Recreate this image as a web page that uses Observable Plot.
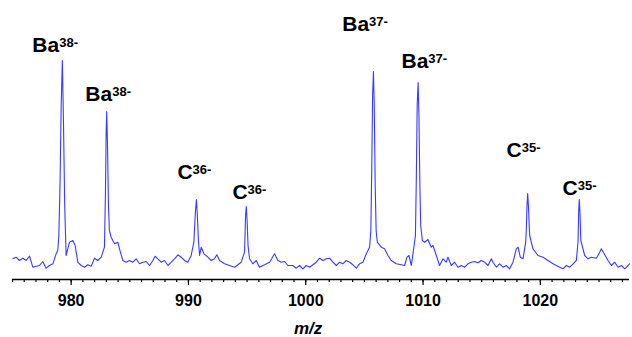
<!DOCTYPE html>
<html><head><meta charset="utf-8">
<script src="https://cdn.jsdelivr.net/npm/d3@7"></script>
<script src="https://cdn.jsdelivr.net/npm/@observablehq/plot@0.6"></script>
<style>
html,body{margin:0;padding:0;background:#fff;}
</style>
</head><body><div id="chart"></div>
<script>
// Spectrum (m/z, relative intensity)
const mz = [
975.03, 975.31, 975.59, 975.88, 976.16, 976.45, 976.73, 977.01, 977.30, 977.58,
977.87, 978.15, 978.44, 978.72, 978.86, 978.95, 979.05, 979.15, 979.25, 979.35,
979.45, 979.57, 979.86, 980.14, 980.34, 980.57, 980.85, 981.14, 981.42, 981.71,
981.99, 982.27, 982.56, 982.84, 982.92, 982.98, 983.03, 983.10, 983.18, 983.26,
983.41, 983.70, 983.98, 984.12, 984.41, 984.69, 984.98, 985.26, 985.54, 985.83,
986.11, 986.40, 986.68, 986.97, 987.16, 987.39, 987.68, 987.96, 988.25, 988.53,
988.81, 989.10, 989.38, 989.67, 989.95, 990.23, 990.46, 990.60, 990.68, 990.76,
990.85, 990.95, 991.09, 991.32, 991.66, 991.94, 992.22, 992.42, 992.65, 993.08,
993.50, 993.93, 994.21, 994.50, 994.78, 994.87, 994.93, 995.00, 995.08, 995.21,
995.49, 995.78, 996.06, 996.49, 996.92, 997.34, 997.63, 997.91, 998.19, 998.48,
998.90, 999.19, 999.47, 999.76, 1000.04, 1000.33, 1000.61, 1000.90, 1001.18, 1001.46,
1001.75, 1002.03, 1002.32, 1002.60, 1002.89, 1003.17, 1003.45, 1003.74, 1004.02, 1004.31,
1004.59, 1004.88, 1005.16, 1005.30, 1005.44, 1005.55, 1005.63, 1005.70, 1005.77, 1005.84,
1005.92, 1006.00, 1006.10, 1006.44, 1006.72, 1007.01, 1007.29, 1007.72, 1008.14, 1008.43,
1008.63, 1008.80, 1009.00, 1009.14, 1009.35, 1009.43, 1009.50, 1009.58, 1009.65, 1009.73,
1009.80, 1009.94, 1010.13, 1010.42, 1010.70, 1010.85, 1011.13, 1011.41, 1011.70, 1011.98,
1012.12, 1012.41, 1012.69, 1012.98, 1013.26, 1013.55, 1013.83, 1014.12, 1014.40, 1014.68,
1014.97, 1015.25, 1015.54, 1015.82, 1015.96, 1016.25, 1016.53, 1016.82, 1017.10, 1017.38,
1017.67, 1017.95, 1018.10, 1018.29, 1018.52, 1018.75, 1018.80, 1018.86, 1018.92, 1018.98,
1019.09, 1019.37, 1019.80, 1020.23, 1020.65, 1021.08, 1021.36, 1021.65, 1021.93, 1022.22,
1022.50, 1022.79, 1023.07, 1023.21, 1023.27, 1023.32, 1023.38, 1023.45, 1023.78, 1024.06,
1024.35, 1024.78, 1025.06, 1025.20, 1025.49, 1025.77, 1026.06, 1026.34, 1026.63, 1026.91,
1027.20, 1027.48, 1027.60
];
const intensity = [
16.7, 18.3, 15.0, 17.3, 15.0, 19.3, 8.3, 9.3, 10.0, 14.0,
7.3, 10.0, 11.7, 21.7, 25.0, 40.0, 90.0, 170.0, 215.0, 150.0,
70.0, 20.0, 33.3, 35.0, 30.0, 13.3, 10.0, 8.3, 10.7, 9.3,
17.3, 15.0, 18.3, 28.3, 80.0, 140.0, 164.0, 130.0, 70.0, 45.0,
38.3, 31.7, 33.3, 26.7, 15.0, 13.3, 15.0, 13.3, 16.7, 11.7,
13.3, 14.0, 10.0, 15.0, 19.3, 16.7, 13.3, 15.0, 10.0, 13.3,
16.7, 20.7, 18.3, 15.0, 13.3, 20.0, 33.3, 65.0, 76.0, 60.0,
35.0, 20.0, 28.3, 21.7, 18.3, 15.0, 16.7, 20.7, 15.0, 11.7,
10.0, 8.3, 10.7, 13.3, 23.3, 60.0, 69.0, 55.0, 30.0, 16.7,
11.7, 15.0, 8.3, 10.7, 13.3, 21.7, 15.0, 13.3, 14.0, 10.0,
10.0, 7.3, 10.0, 6.7, 10.0, 8.3, 10.7, 13.3, 17.3, 15.0,
16.7, 17.3, 13.3, 10.0, 13.3, 11.7, 15.0, 13.3, 10.7, 7.3,
11.7, 13.3, 21.7, 25.0, 28.3, 45.0, 110.0, 180.0, 204.0, 170.0,
90.0, 45.0, 33.3, 28.3, 26.7, 20.0, 15.0, 11.7, 10.7, 10.0,
18.3, 20.0, 10.0, 21.7, 40.0, 100.0, 170.0, 193.0, 160.0, 90.0,
50.0, 35.0, 33.3, 36.0, 28.3, 30.0, 20.0, 10.0, 16.7, 13.3,
18.3, 10.0, 13.3, 8.3, 10.0, 8.3, 11.7, 13.3, 14.0, 12.7,
15.0, 13.3, 10.0, 16.7, 13.3, 8.3, 11.7, 8.3, 10.0, 6.7,
13.3, 26.7, 28.3, 18.3, 16.7, 33.3, 45.0, 70.0, 82.0, 70.0,
40.0, 26.7, 20.0, 18.3, 15.0, 11.7, 10.0, 8.3, 6.7, 10.0,
8.3, 11.7, 15.0, 33.3, 65.0, 76.0, 62.0, 35.0, 20.0, 16.7,
18.3, 17.3, 23.3, 26.7, 20.7, 15.0, 10.0, 13.3, 8.3, 10.0,
6.7, 10.0, 11.7
];

// Peak annotations
const labelMz = [978.98, 983.50, 990.35, 995.04, 1005.40, 1010.45, 1018.41, 1023.19];
const labelIntensity = [224, 175, 97, 77, 245, 208, 119, 81];
const labelBase = ["Ba", "Ba", "C", "C", "Ba", "Ba", "C", "C"];
const labelCharge = ["38-", "38-", "36-", "36-", "37-", "37-", "35-", "35-"];

// Axis
const majorTicks = [980, 990, 1000, 1010, 1020];
const minorTicks = d3.range(975, 1028);
const xTitle = "m/z";
const xTitleMz = [1000.2];

const spectrum = mz.map((m, i) => ({mz: m, intensity: intensity[i]}));
const labels = labelMz.map((m, i) => ({mz: m, intensity: labelIntensity[i], base: labelBase[i], charge: labelCharge[i]}));
const title = xTitleMz.map(m => ({mz: m, text: xTitle}));

const chart = Plot.plot({
  width: 632,
  height: 337,
  marginLeft: 12,
  marginRight: 3,
  marginTop: 55,
  marginBottom: 58,
  x: {domain: [975, 1027.6], label: null},
  y: {domain: [-4, 220], axis: null, label: null},
  style: {fontFamily: "'Liberation Sans', Arial, sans-serif", background: "#fff", overflow: "visible"},
  marks: [
    Plot.ruleY([-4], {stroke: "#000", strokeWidth: 1.5}),
    Plot.axisX(minorTicks, {tickSize: 3, strokeWidth: 1.2, tickFormat: () => "", label: null}),
    Plot.axisX(majorTicks, {tickSize: 6, strokeWidth: 1.2, tickPadding: 9, tickFormat: d => String(d), fontSize: 16, fontWeight: "bold", fill: "#000", label: null}),
    Plot.line(spectrum, {x: "mz", y: "intensity", stroke: "#3a3aff", strokeWidth: 1.1}),
    Plot.text(labels, {x: "mz", y: "intensity", text: "base", textAnchor: "end", lineAnchor: "bottom", fontSize: 21, fontWeight: "bold", fill: "#000"}),
    Plot.text(labels, {x: "mz", y: "intensity", text: "charge", textAnchor: "start", lineAnchor: "bottom", fontSize: 13, fontWeight: "bold", fill: "#000", dy: -5}),
    Plot.text(title, {x: "mz", text: "text", frameAnchor: "bottom", lineAnchor: "bottom", dy: 54, fontSize: 17, fontWeight: "bold", fontStyle: "italic", fill: "#000"})
  ]
});
document.getElementById("chart").appendChild(chart);
</script>
</body></html>
